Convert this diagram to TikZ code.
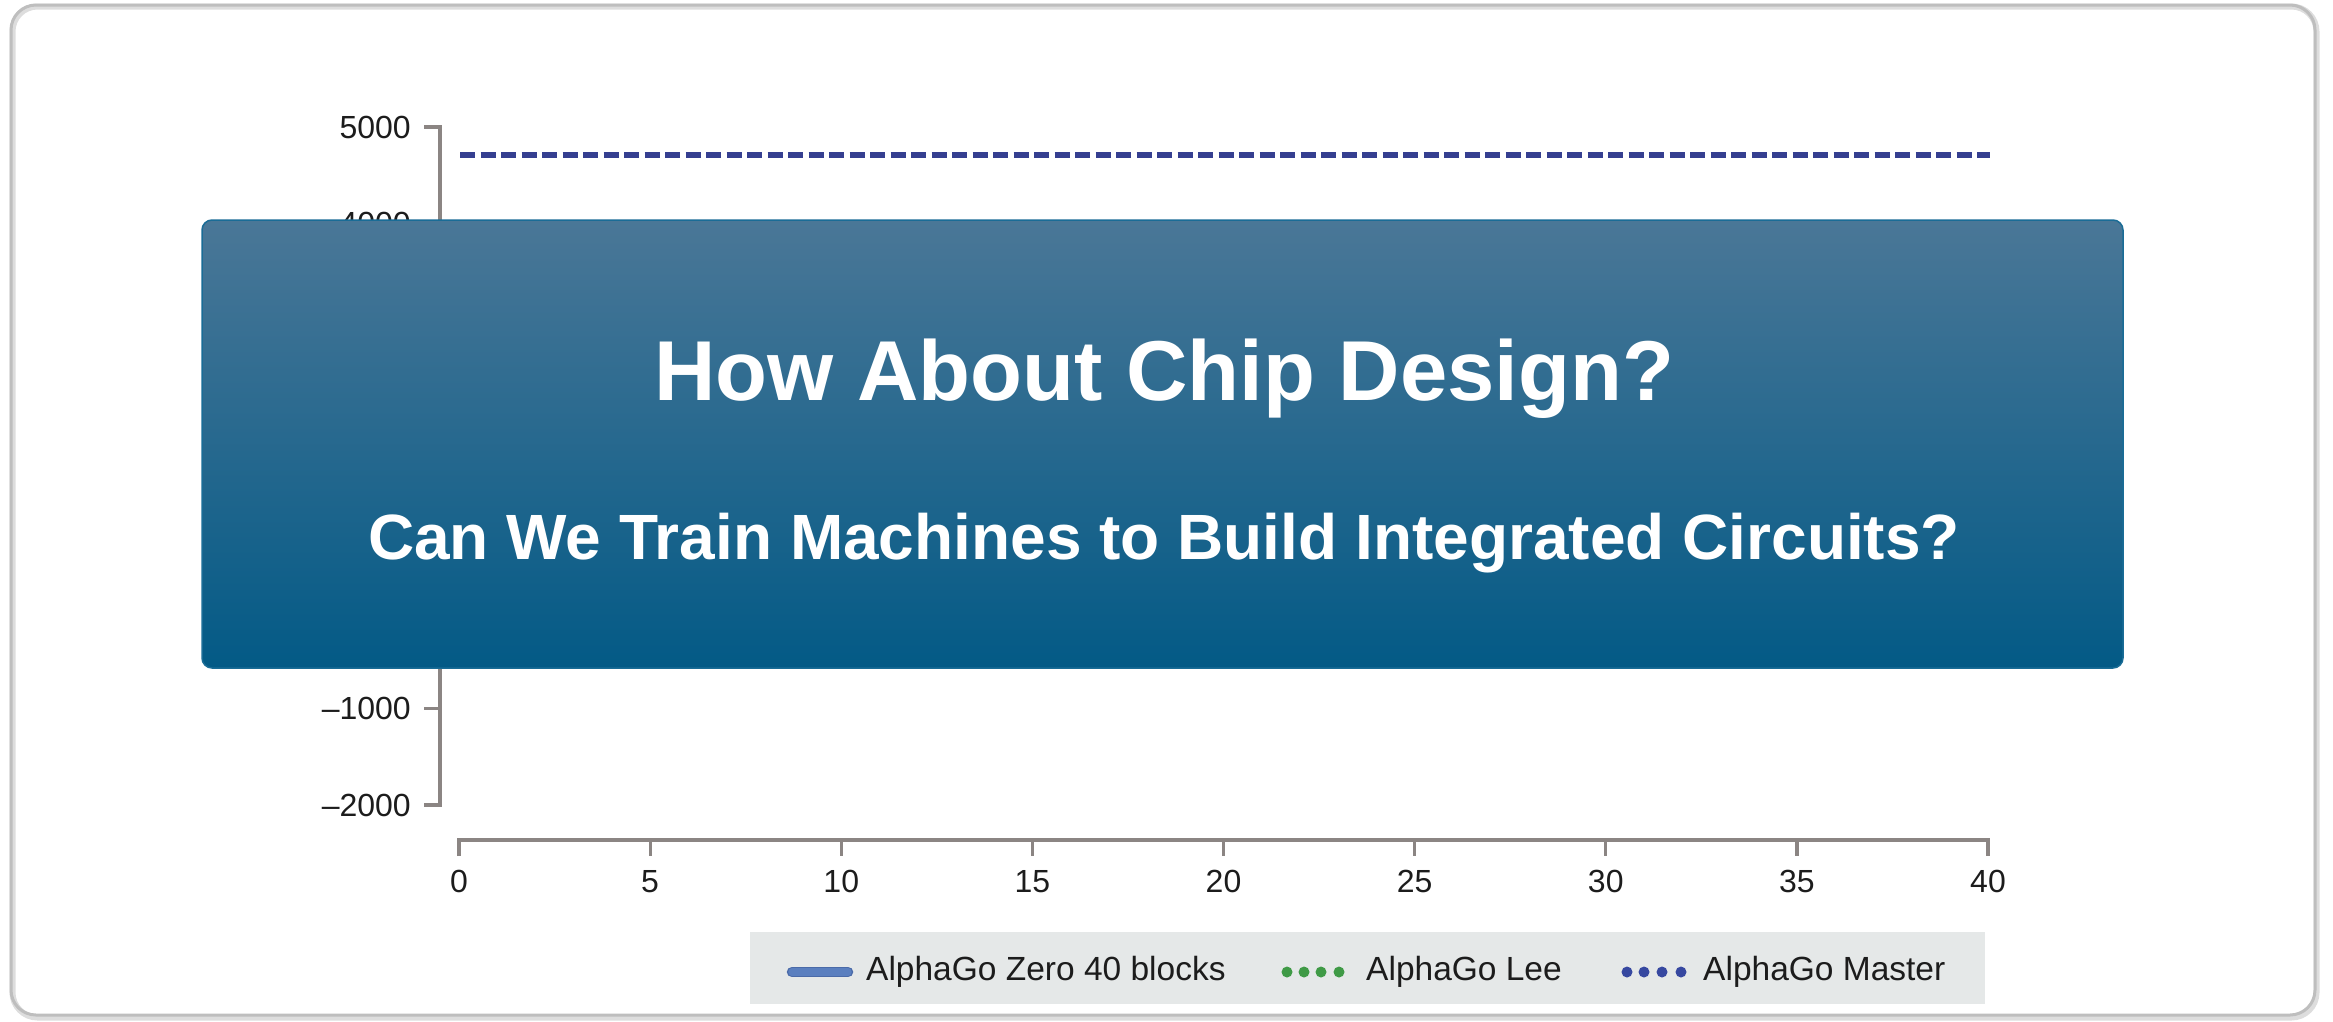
\documentclass[tikz,border=0pt]{standalone}
\usepackage{fontspec}
\setmainfont{Liberation Sans}
\definecolor{framegray}{HTML}{BEBEBE}
\definecolor{frameshadow}{HTML}{DDDDDD}
\definecolor{axisgray}{HTML}{8B8583}
\definecolor{labelblack}{HTML}{1C1C1C}
\definecolor{mastercol}{HTML}{353F90}
\definecolor{boxtop}{HTML}{4A7797}
\definecolor{boxmid}{HTML}{026592}
\definecolor{boxbot}{HTML}{035A86}
\definecolor{boxedge}{HTML}{1A6C96}
\definecolor{leggray}{HTML}{E5E8E8}
\definecolor{zerocol}{HTML}{5A7FBF}
\definecolor{zeroedge}{HTML}{4A6AA8}
\definecolor{leecol}{HTML}{3F9A46}
\definecolor{masterdot}{HTML}{3648A0}
\begin{document}
\begin{tikzpicture}[x=1pt,y=-1pt,
  axisline/.style={draw=axisgray, line width=3.2pt},
  ylab/.style={anchor=base east, inner sep=0pt, text=labelblack, font=\fontsize{32}{32}\selectfont},
  xlab/.style={anchor=base, inner sep=0pt, text=labelblack, font=\fontsize{32}{32}\selectfont},
  legtext/.style={anchor=base west, inner sep=0pt, text=labelblack, font=\fontsize{33.5}{33.5}\selectfont},
  titletext/.style={anchor=base, inner sep=0pt, text=white, font=\fontsize{85}{85}\selectfont\bfseries},
  subtext/.style={anchor=base, inner sep=0pt, text=white, font=\fontsize{64}{64}\selectfont\bfseries},
  legdot/.style={circle, inner sep=0pt, minimum size=11pt},
]
\useasboundingbox (0,0) rectangle (2333,1021);
% outer frame
\draw[frameshadow, line width=6pt, rounded corners=25pt] (12.5,6.5) rectangle (2316.5,1017.5);
\draw[framegray, line width=3pt, rounded corners=25pt] (11,5) rectangle (2315,1015);

% y axis (labels 3000 to 0 lie under the banner)
\draw[axisline] (424,127) -- (440,127) -- (440,805) -- (424,805);
\foreach \v/\i in {5000/0,4000/1,–1000/6,–2000/7}{
  \pgfmathsetmacro\yy{127+\i*96.857}
  \draw[axisline] (424,\yy) -- (440,\yy);
  \node[ylab] (ylab\i) at (411,\yy+11) {\v};
}
% x axis
\draw[axisline] (459,856) -- (459,840) -- (1988,840) -- (1988,856);
\foreach \k in {0,...,8}{
  \pgfmathsetmacro\xx{459+\k*191.125}
  \pgfmathtruncatemacro\lab{5*\k}
  \draw[axisline] (\xx,840) -- (\xx,856);
  \node[xlab] (xlab\k) at (\xx,892) {\lab};
}

% AlphaGo Master level
\draw[mastercol, line width=5.5pt, dash pattern=on 15pt off 5.5pt] (460,155) -- (1990,155);

% overlay banner
\shade[top color=boxtop, middle color=boxmid, bottom color=boxbot, rounded corners=10pt] (202,220) rectangle (2123,668);
\draw[boxedge, line width=1.5pt, rounded corners=10pt] (202,220) rectangle (2123,668);
\node[titletext] (title) at (1164,400) {How About Chip Design?};
\node[subtext] (subtitle) at (1164,559) {Can We Train Machines to Build Integrated Circuits?};

% legend
\node[fill=leggray, inner sep=0pt, minimum width=1235pt, minimum height=72pt] (legend) at (1367.5,968) {};
\coordinate (zeroA) at (792,972);
\coordinate (zeroB) at (848,972);
\draw[zeroedge, line width=10.5pt, line cap=round] (zeroA) -- (zeroB);
\draw[zerocol, line width=7.5pt, line cap=round] (zeroA) -- (zeroB);
\node[legtext] (legzero) at (866,980) {AlphaGo Zero 40 blocks};
\foreach \x [count=\j] in {1287,1304,1321,1339}{
  \node[legdot, fill=leecol] (lee\j) at (\x,972) {};
}
\node[legtext] (leglee) at (1366,980) {AlphaGo Lee};
\foreach \x [count=\j] in {1627,1644,1662,1681}{
  \node[legdot, fill=masterdot] (mas\j) at (\x,972) {};
}
\node[legtext] (legmaster) at (1703,980) {AlphaGo Master};
\end{tikzpicture}
\end{document}
